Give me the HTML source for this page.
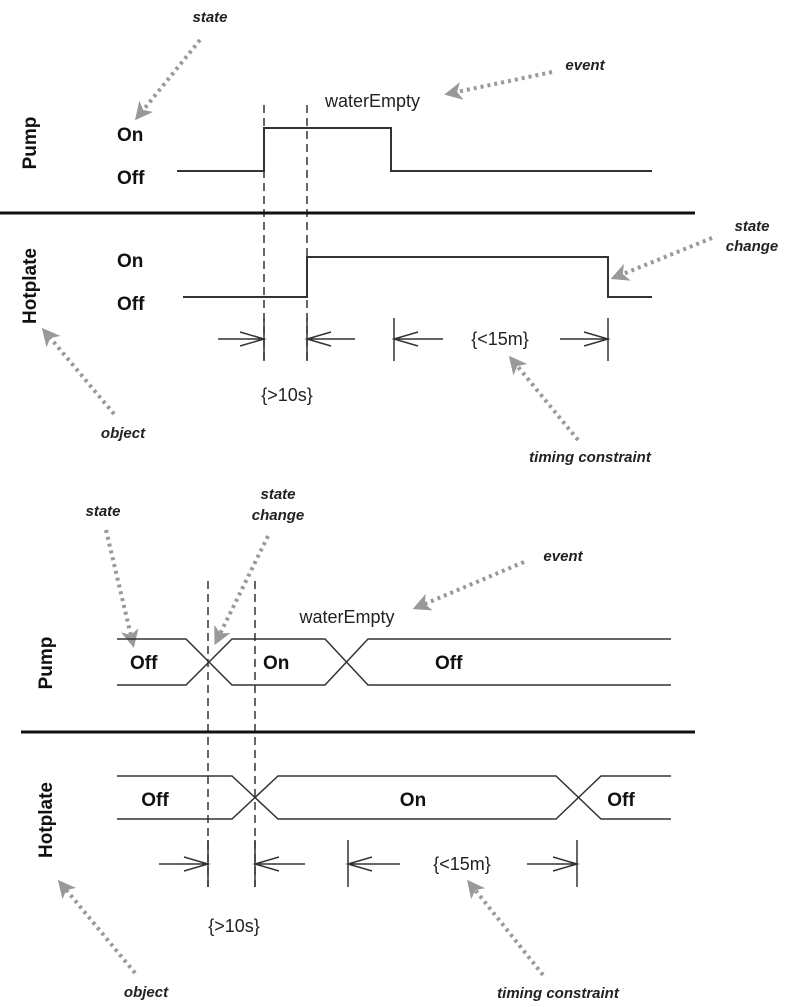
<!DOCTYPE html>
<html><head><meta charset="utf-8"><style>
html,body{margin:0;padding:0;background:#fff;}
svg{display:block;}
.lbl{font-family:"Liberation Sans",sans-serif;font-weight:bold;font-size:19px;fill:#111;}
.txt{font-family:"Liberation Sans",sans-serif;font-size:18px;fill:#222;}
.ann{font-family:"Liberation Sans",sans-serif;font-weight:bold;font-style:italic;font-size:15px;fill:#222;}
.sig{stroke:#333;stroke-width:2;fill:none;}
.dash{stroke:#333;stroke-width:1.5;stroke-dasharray:8 5;fill:none;}
.dot{stroke:#999;stroke-width:4;stroke-dasharray:3 4;fill:none;}
.meas{stroke:#333;stroke-width:1.5;fill:none;}
</style></head><body>
<svg width="793" height="1007" viewBox="0 0 793 1007" xmlns="http://www.w3.org/2000/svg">
<defs>
<marker id="ga" markerWidth="4.5" markerHeight="4.5" refX="2.5" refY="2.25" orient="auto" markerUnits="strokeWidth">
<path d="M0,0 L4.5,2.25 L0,4.5 L1.2,2.25 Z" fill="#999"/>
</marker>
</defs>

<!-- ===== TOP DIAGRAM ===== -->
<text class="ann" x="210" y="22" text-anchor="middle">state</text>
<line class="dot" x1="200" y1="40" x2="140" y2="114" marker-end="url(#ga)"/>
<text class="ann" x="585" y="70" text-anchor="middle">event</text>
<line class="dot" x1="552" y1="72" x2="452" y2="93" marker-end="url(#ga)"/>
<text class="txt" x="325" y="107">waterEmpty</text>

<line class="dash" x1="264" y1="105" x2="264" y2="362"/>
<line class="dash" x1="307" y1="105" x2="307" y2="362"/>

<text class="lbl" transform="translate(36,143) rotate(-90)" text-anchor="middle">Pump</text>
<text class="lbl" x="117" y="141">On</text>
<text class="lbl" x="117" y="184">Off</text>
<polyline class="sig" points="177,171 264,171 264,128 391,128 391,171 652,171"/>

<line x1="0" y1="213" x2="695" y2="213" stroke="#111" stroke-width="3"/>

<text class="lbl" transform="translate(36,286) rotate(-90)" text-anchor="middle">Hotplate</text>
<text class="lbl" x="117" y="267">On</text>
<text class="lbl" x="117" y="310">Off</text>
<polyline class="sig" points="183,297 307,297 307,257 608,257 608,297 652,297"/>

<text class="ann" x="752" y="231" text-anchor="middle">state</text>
<text class="ann" x="752" y="251" text-anchor="middle">change</text>
<line class="dot" x1="712" y1="238" x2="618" y2="276" marker-end="url(#ga)"/>

<!-- measurement top -->
<line class="meas" x1="264" y1="318" x2="264" y2="361"/>
<line class="meas" x1="307" y1="318" x2="307" y2="361"/>
<line class="meas" x1="394" y1="318" x2="394" y2="361"/>
<line class="meas" x1="608" y1="318" x2="608" y2="361"/>
<path class="meas" d="M218,339 H264 M240,332 L264,339 L240,346"/>
<path class="meas" d="M355,339 H307 M331,332 L307,339 L331,346"/>
<path class="meas" d="M443,339 H394 M418,332 L394,339 L418,346"/>
<path class="meas" d="M560,339 H608 M584,332 L608,339 L584,346"/>
<text class="txt" x="500" y="345" text-anchor="middle">{&lt;15m}</text>
<text class="txt" x="287" y="401" text-anchor="middle">{&gt;10s}</text>

<text class="ann" x="123" y="438" text-anchor="middle">object</text>
<line class="dot" x1="114" y1="414" x2="47" y2="334" marker-end="url(#ga)"/>
<text class="ann" x="590" y="462" text-anchor="middle">timing constraint</text>
<line class="dot" x1="578" y1="440" x2="514" y2="362" marker-end="url(#ga)"/>

<!-- ===== BOTTOM DIAGRAM ===== -->
<text class="ann" x="103" y="516" text-anchor="middle">state</text>
<line class="dot" x1="106" y1="530" x2="132" y2="640" marker-end="url(#ga)"/>
<text class="ann" x="278" y="499" text-anchor="middle">state</text>
<text class="ann" x="278" y="520" text-anchor="middle">change</text>
<line class="dot" x1="268" y1="536" x2="218" y2="638" marker-end="url(#ga)"/>
<text class="ann" x="563" y="561" text-anchor="middle">event</text>
<line class="dot" x1="524" y1="562" x2="420" y2="606" marker-end="url(#ga)"/>
<text class="txt" x="347" y="623" text-anchor="middle">waterEmpty</text>

<line class="dash" x1="208" y1="581" x2="208" y2="887"/>
<line class="dash" x1="255" y1="581" x2="255" y2="887"/>

<text class="lbl" transform="translate(52,663) rotate(-90)" text-anchor="middle">Pump</text>
<polyline class="sig" style="stroke-width:1.5" points="117,639 186,639 232,685 325,685 368,639 671,639"/>
<polyline class="sig" style="stroke-width:1.5" points="117,685 186,685 232,639 325,639 368,685 671,685"/>
<text class="lbl" x="130" y="669">Off</text>
<text class="lbl" x="263" y="669">On</text>
<text class="lbl" x="435" y="669">Off</text>

<line x1="21" y1="732" x2="695" y2="732" stroke="#111" stroke-width="3"/>

<text class="lbl" transform="translate(52,820) rotate(-90)" text-anchor="middle">Hotplate</text>
<polyline class="sig" style="stroke-width:1.5" points="117,776 232,776 278,819 556,819 601,776 671,776"/>
<polyline class="sig" style="stroke-width:1.5" points="117,819 232,819 278,776 556,776 601,819 671,819"/>
<text class="lbl" x="155" y="806" text-anchor="middle">Off</text>
<text class="lbl" x="413" y="806" text-anchor="middle">On</text>
<text class="lbl" x="621" y="806" text-anchor="middle">Off</text>

<!-- measurement bottom -->
<line class="meas" x1="208" y1="840" x2="208" y2="887"/>
<line class="meas" x1="255" y1="840" x2="255" y2="887"/>
<line class="meas" x1="348" y1="840" x2="348" y2="887"/>
<line class="meas" x1="577" y1="840" x2="577" y2="887"/>
<path class="meas" d="M159,864 H208 M184,857 L208,864 L184,871"/>
<path class="meas" d="M305,864 H255 M279,857 L255,864 L279,871"/>
<path class="meas" d="M400,864 H348 M372,857 L348,864 L372,871"/>
<path class="meas" d="M527,864 H577 M553,857 L577,864 L553,871"/>
<text class="txt" x="462" y="870" text-anchor="middle">{&lt;15m}</text>
<text class="txt" x="234" y="932" text-anchor="middle">{&gt;10s}</text>

<text class="ann" x="146" y="997" text-anchor="middle">object</text>
<line class="dot" x1="135" y1="973" x2="63" y2="886" marker-end="url(#ga)"/>
<text class="ann" x="558" y="998" text-anchor="middle">timing constraint</text>
<line class="dot" x1="543" y1="975" x2="472" y2="886" marker-end="url(#ga)"/>
</svg>
</body></html>
